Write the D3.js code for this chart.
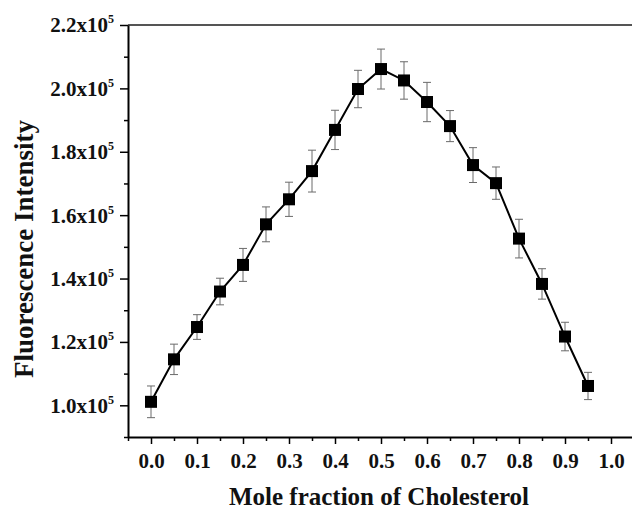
<!DOCTYPE html>
<html>
<head>
<meta charset="utf-8">
<script src="https://cdn.jsdelivr.net/npm/d3@7"></script>
<style>
  body { margin: 0; background: #fff; }
  svg { display: block; }
  text { font-family: "Times New Roman", "Liberation Serif", serif; font-weight: bold; fill: #111; }
</style>
</head>
<body>
<script>
// mole fraction of cholesterol
var fractions = [0.00, 0.05, 0.10, 0.15, 0.20, 0.25, 0.30, 0.35, 0.40, 0.45,
                 0.50, 0.55, 0.60, 0.65, 0.70, 0.75, 0.80, 0.85, 0.90, 0.95];
// fluorescence intensity (a.u.)
var intensity = [101100, 114500, 124700, 135900, 144300, 157100, 165000, 173900, 186900, 199800,
                 206100, 202500, 195700, 188100, 175800, 170100, 152600, 138300, 121700, 106100];
// error bar half-heights
var errors = [5000, 4800, 3900, 4200, 5200, 5500, 5400, 6600, 6200, 5900,
              6300, 5900, 6200, 4900, 5500, 5100, 6100, 4800, 4500, 4300];

var xMajor = [0.0, 0.1, 0.2, 0.3, 0.4, 0.5, 0.6, 0.7, 0.8, 0.9, 1.0];
var xMinor = [-0.05, 0.05, 0.15, 0.25, 0.35, 0.45, 0.55, 0.65, 0.75, 0.85, 0.95, 1.05];
var yMajor = [1.0e5, 1.2e5, 1.4e5, 1.6e5, 1.8e5, 2.0e5, 2.2e5];
var yMinor = [0.9e5, 1.1e5, 1.3e5, 1.5e5, 1.7e5, 1.9e5, 2.1e5];

var W = 632, H = 512;
var plotL = 128, plotR = 634, plotT = 25, plotB = 437;

var svg = d3.select('body').append('svg')
  .attr('width', W)
  .attr('height', H);

var x = d3.scaleLinear().domain([-0.05, 1.05]).range([plotL, plotR]);
var y = d3.scaleLinear().domain([0.9e5, 2.2e5]).range([plotB, plotT]);

// top frame line
svg.append('line')
  .attr('x1', plotL).attr('x2', plotR)
  .attr('y1', plotT).attr('y2', plotT)
  .attr('stroke', '#555').attr('stroke-width', 2);

// minor ticks
svg.append('g')
  .attr('transform', 'translate(0,' + plotB + ')')
  .call(d3.axisBottom(x).tickValues(xMinor).tickSize(4).tickFormat(''))
  .call(function(g) { g.select('.domain').remove(); })
  .selectAll('line').attr('stroke', '#000').attr('stroke-width', 1.5);

svg.append('g')
  .attr('transform', 'translate(' + plotL + ',0)')
  .call(d3.axisLeft(y).tickValues(yMinor).tickSize(4).tickFormat(''))
  .call(function(g) { g.select('.domain').remove(); })
  .selectAll('line').attr('stroke', '#000').attr('stroke-width', 1.5);

// x axis
var gx = svg.append('g')
  .attr('transform', 'translate(0,' + plotB + ')')
  .call(d3.axisBottom(x).tickValues(xMajor).tickSize(7).tickSizeOuter(0)
          .tickPadding(9).tickFormat(d3.format('.1f')));
gx.select('.domain').attr('stroke', '#000').attr('stroke-width', 2);
gx.selectAll('line').attr('stroke', '#000').attr('stroke-width', 1.5);
gx.selectAll('text').attr('font-size', 21).attr('fill', '#111')
  .attr('font-family', null).attr('dy', '0.72em');

// y axis
var gy = svg.append('g')
  .attr('transform', 'translate(' + plotL + ',0)')
  .call(d3.axisLeft(y).tickValues(yMajor).tickSize(8).tickSizeOuter(0).tickPadding(6));
gy.select('.domain').attr('stroke', '#000').attr('stroke-width', 2);
gy.selectAll('line').attr('stroke', '#000').attr('stroke-width', 1.5);
gy.selectAll('.tick text')
  .attr('font-size', 21).attr('fill', '#111').attr('font-family', null)
  .attr('dy', '0.33em')
  .text(null)
  .each(function(d) {
    var t = d3.select(this);
    t.append('tspan').text((d / 1e5).toFixed(1) + 'x10');
    t.append('tspan').attr('font-size', 12).attr('dy', -9).text('5');
  });

// error bars
var eb = svg.append('g').attr('stroke', '#6a6a6a').attr('stroke-width', 1);
fractions.forEach(function(f, i) {
  var cx = x(f), hi = y(intensity[i] + errors[i]), lo = y(intensity[i] - errors[i]);
  eb.append('line').attr('x1', cx).attr('x2', cx).attr('y1', hi).attr('y2', lo);
  eb.append('line').attr('x1', cx - 4).attr('x2', cx + 4).attr('y1', hi).attr('y2', hi);
  eb.append('line').attr('x1', cx - 4).attr('x2', cx + 4).attr('y1', lo).attr('y2', lo);
});

// connecting line
var line = d3.line()
  .x(function(d, i) { return x(fractions[i]); })
  .y(function(d) { return y(d); });

svg.append('path')
  .datum(intensity)
  .attr('d', line)
  .attr('fill', 'none')
  .attr('stroke', '#000')
  .attr('stroke-width', 2);

// square markers
svg.append('g').selectAll('rect')
  .data(intensity)
  .enter().append('rect')
  .attr('x', function(d, i) { return x(fractions[i]) - 6; })
  .attr('y', function(d) { return y(d) - 6; })
  .attr('width', 12)
  .attr('height', 12)
  .attr('fill', '#000');

// axis titles
svg.append('text')
  .attr('x', 379)
  .attr('y', 505)
  .attr('text-anchor', 'middle')
  .attr('font-size', 25)
  .text('Mole fraction of Cholesterol');

svg.append('text')
  .attr('transform', 'translate(33,249) rotate(-90)')
  .attr('text-anchor', 'middle')
  .attr('font-size', 27)
  .text('Fluorescence Intensity');
</script>
</body>
</html>
